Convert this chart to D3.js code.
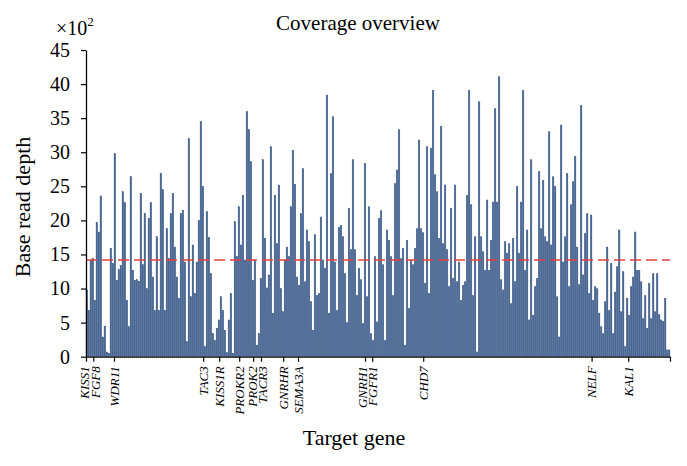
<!DOCTYPE html>
<html><head><meta charset="utf-8">
<script src="https://cdn.jsdelivr.net/npm/d3@7"></script>
<style>
body{margin:0;background:#fff;}
text{font-family:"Liberation Serif","Times New Roman",serif;}
</style></head>
<body><svg id="c" width="687" height="466"></svg>
<script>
// Base read depth (x100) per amplicon, left to right
const depth = [
9.8,6.8,14.2,14.4,8.3,19.7,18.3,23.6,2.9,4.5,0.7,0.5,15.9,13.7,29.8,11.2,12.8,13.4,24.2,22.6,
8.3,4.4,26.4,12.7,11.2,11.3,11.1,24.0,13.5,21.0,10.0,20.3,22.6,11.7,6.8,17.6,6.8,26.9,24.5,6.8,
18.8,14.4,21.0,24.0,16.1,11.7,8.6,21,21.5,13.9,2.2,32,8.8,16.4,9.3,13.9,20,34.5,25,1.5,
21.3,17.5,12.2,3.4,2.4,4.2,5.4,8.8,6.8,3.9,0.6,5.4,9.3,0.5,19.8,14.7,22,16.4,23.7,14.2,
36,33.3,28.6,11.2,14.2,1.7,3.4,11.5,28.9,17.4,10.1,12,30.8,6.4,23.7,16.6,25.2,10,6.6,14.2,
16.1,14.7,22,30.3,25.3,11.7,10.5,21,27.6,11,18.6,16.9,8.1,3.9,17.9,9,9.3,20.5,14.2,13,
38.4,6.4,26.9,35.2,13.9,6.8,19,19.3,17.6,12.2,5,21.8,15.7,28.9,15.7,9,13,11.3,4.9,28.4,
8.8,22,3.4,2.4,14.7,5.1,20.3,21.4,13.5,2.4,18.6,17.1,14.7,9.0,25.4,27.4,33.3,14.4,15.9,1.7,
17.1,7.1,14.2,13.5,15.9,18.8,31.8,18.8,18.2,10.8,30.8,9.3,30.6,39.1,26.7,24.2,17.4,33.8,16.6,25.2,
15.7,10.3,21.8,11.5,25.2,11,13.9,8.3,10.5,11,23.7,39.1,22.3,9,17.6,0.7,37.4,17.6,15.4,12.7,
23,12.7,17.1,22.7,36.4,22.7,41.1,11.3,9.8,16.9,15.2,16.6,7.8,17.4,11,25,15.2,22.7,39.1,12.7,
18.6,5.4,28.9,6.1,10.3,11.5,27.2,18.8,25.9,17.6,16.9,33,16.4,26.4,25,8.8,2.9,34,13.9,17.6,
26.9,10.3,22.3,25.7,29.4,16.1,10.6,36.9,12,18.1,21,9.3,20.8,8.3,10.3,10,6.4,4.4,3.4,8.1,
16.1,6.8,13.7,3.4,9.5,13.2,18.6,6.6,12.5,1.5,8.6,6.1,10.3,11.7,18.3,12.7,12.7,11,5.6,9,
4.2,10.8,5.6,12.2,6.6,12.2,6.2,5.4,5.2,8.6,1,1
];
const geneNames = ["KISS1","FGF8","WDR11","TAC3","KISS1R","PROKR2","PROK2","TACR3","GNRHR","SEMA3A","GNRH1","FGFR1","CHD7","NELF","KAL1"];
const geneStart = [0,3.65,14,58.6,66.6,76.6,83.6,87.5,98.6,106,139.5,143.1,168.6,252.8,271.1];
const yTicks = [0,5,10,15,20,25,30,35,40,45];
const meanDepth = [14.2];

const svg = d3.select("#c");
const L = 86, R = 670, T = 50, B = 356.7;
const n = depth.length;
const x = d3.scaleBand().domain(d3.range(n)).range([L, R]).paddingInner(0.12).paddingOuter(0);
const xi = d3.scaleLinear().domain([0, n]).range([L, R]);
const y = d3.scaleLinear().domain([0, 45]).range([B, T]);

svg.append("g").selectAll("rect").data(depth).join("rect")
  .attr("x", (d,i) => x(i))
  .attr("width", x.bandwidth())
  .attr("y", d => y(d))
  .attr("height", d => B - y(d))
  .attr("fill", "#4b6996")
  .attr("stroke", "#3f5c88")
  .attr("stroke-width", 0.3);

// mean line
svg.append("g").selectAll("line").data(meanDepth).join("line")
  .attr("x1", L).attr("x2", R)
  .attr("y1", d => y(d)).attr("y2", d => y(d))
  .attr("stroke", "#e5413b").attr("stroke-width", 1.5)
  .attr("stroke-dasharray", "11,5");

// y axis
const ya = svg.append("g").attr("transform", `translate(${L},0)`)
  .call(d3.axisLeft(y).tickValues(yTicks).tickSize(5).tickPadding(11).tickSizeOuter(0));
ya.select(".domain").attr("stroke", "#000").attr("stroke-width", 1.3);
ya.selectAll(".tick line").attr("stroke", "#000").attr("stroke-width", 1.2);
ya.selectAll("text").attr("font-size", 20).attr("fill", "#000")
  .style("font-family", '"Liberation Serif",serif');

// x axis
const labelNudge = {"KISS1": -2, "FGF8": 2, "GNRH1": -3, "PROK2": -1, "TACR3": 1.5};
const xTicks = geneStart.concat([n]);
const xa = svg.append("g").attr("transform", `translate(0,${B})`)
  .call(d3.axisBottom(xi).tickValues(xTicks).tickSize(5).tickSizeOuter(0)
    .tickFormat((d,i) => i < geneNames.length ? geneNames[i] : ""));
xa.select(".domain").attr("stroke", "#000").attr("stroke-width", 1.3);
xa.selectAll(".tick line").attr("stroke", "#000").attr("stroke-width", 1.2);
xa.selectAll("text")
  .attr("transform", "rotate(-90)")
  .attr("text-anchor", "end")
  .attr("x", -9.5)
  .attr("y", function(){ return labelNudge[this.textContent] || 0; })
  .attr("dy", "0.33em")
  .attr("font-size", 13).attr("font-style", "italic").attr("fill", "#000")
  .style("font-family", '"Liberation Serif",serif');

// title & labels
svg.append("text").attr("x", 358).attr("y", 30).attr("text-anchor", "middle")
  .attr("font-size", 21).text("Coverage overview");
svg.append("text").attr("x", 354).attr("y", 445).attr("text-anchor", "middle")
  .attr("font-size", 22).text("Target gene");
svg.append("text").attr("transform", "translate(30,207) rotate(-90)").attr("text-anchor", "middle")
  .attr("font-size", 22).text("Base read depth");
const mult = svg.append("text").attr("x", 56).attr("y", 35).attr("font-size", 20);
mult.append("tspan").text("×10");
mult.append("tspan").attr("font-size", 13).attr("dy", -9).text("2");
</script></body></html>
